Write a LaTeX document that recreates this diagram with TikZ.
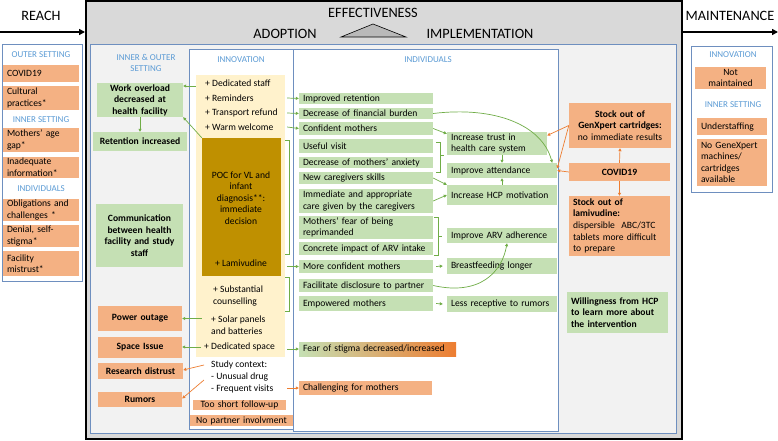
\documentclass[tikz,border=0pt]{standalone}
\usepackage{fontspec}
\setmainfont{Carlito}
\usetikzlibrary{arrows.meta,calc}
\definecolor{orng}{HTML}{F4B183}
\definecolor{grn}{HTML}{C5E0B4}
\definecolor{yelw}{HTML}{FFF2CC}
\definecolor{goldc}{HTML}{BF9000}
\definecolor{hblue}{HTML}{5B9BD5}
\definecolor{bdrc}{HTML}{6E8FBF}
\definecolor{garr}{HTML}{70AD47}
\definecolor{oarr}{HTML}{ED7D31}
\definecolor{grayA}{HTML}{D9D9D9}
\definecolor{grayB}{HTML}{F2F2F2}
\hyphenpenalty=10000
\exhyphenpenalty=10000
\newcommand\mybox[7]{%
  \pgfmathsetmacro\bxw{#5-#3}\pgfmathsetmacro\bxh{#6-#4}\pgfmathsetmacro\bxt{#5-#3-8}%
  \node[#2, minimum width=\bxw pt, minimum height=\bxh pt, text width=\bxt pt] (#1) at ({(#3+#5)/2},{(#4+#6)/2}) {#7};}
\begin{document}
\begin{tikzpicture}[x=1pt,y=-1pt,
  every node/.style={font=\fontsize{9.6}{11.6}\selectfont, inner sep=0pt},
  ob/.style={fill=orng, inner xsep=4pt, inner ysep=0pt, align=left},
  gb/.style={fill=grn, inner xsep=4pt, inner ysep=0pt, align=left},
  ctr/.style={align=center},
  bld/.style={font=\fontsize{9.6}{11.6}\selectfont\bfseries},
  hdr/.style={font=\fontsize{9}{11.5}\selectfont, text=hblue, align=center},
  ttl/.style={font=\fontsize{14.3}{16}\selectfont},
  itm/.style={anchor=west, align=left},
  garrow/.style={draw=garr, line width=0.7pt, -{Triangle[length=3pt,width=3pt]}},
  oarrow/.style={draw=oarr, line width=0.7pt, -{Triangle[length=3pt,width=3pt]}},
  gline/.style={draw=garr, line width=0.5pt},
  bigarrow/.style={line width=1.6pt, -{Triangle[length=6pt,width=6pt]}},
  frame/.style={draw=bdrc, line width=0.8pt}]
\useasboundingbox (0,0) rectangle (778,441);
\fill[white] (0,0) rectangle (778,441);
% frames
\draw[line width=2pt, fill=grayA] (86,1) rectangle (682,439);
\draw[frame, fill=grayB] (90,44) rectangle (676,433);
\draw[frame, fill=white] (189,49) rectangle (293,429);
\draw[frame, fill=white] (293,49) rectangle (558,431);
\draw[frame, fill=white] (2,44) rectangle (82,281);
\draw[frame, fill=white] (691,46) rectangle (772,192);
% titles
\node[ttl] (reach) at (41,16) {REACH};
\node[ttl] (eff) at (373,13) {EFFECTIVENESS};
\node[ttl] (adop) at (285,34) {ADOPTION};
\node[ttl] (impl) at (480,34) {IMPLEMENTATION};
\node[ttl] (maint) at (730,16) {MAINTENANCE};
\draw[fill=gray!55, line width=0.6pt] (341,37) -- (373,24) -- (406,37) -- cycle;
\coordinate (reachA) at (0,32);
\coordinate (reachB) at (85,32);
\coordinate (maintA) at (682,32);
\coordinate (maintB) at (778,32);
\draw[bigarrow] (reachA) -- (reachB);
\draw[bigarrow] (maintA) -- (maintB);
% REACH column
\node[hdr] (hOut) at (41,55) {OUTER SETTING};
\mybox{r1}{ob}{3}{65}{79}{82}{COVID19}
\mybox{r2}{ob}{3}{86}{79}{110}{Cultural\\practices*}
\node[hdr] (hIn) at (41,120) {INNER SETTING};
\mybox{r3}{ob}{3}{128}{79}{152}{Mothers’ age\\gap*}
\mybox{r4}{ob}{3}{157}{79}{178}{Inadequate\\information*}
\node[hdr] (hIndL) at (41,189) {INDIVIDUALS};
\mybox{r5}{ob}{3}{199}{79}{221}{Obligations and\\challenges *}
\mybox{r6}{ob}{3}{225}{79}{247}{Denial, self-\\stigma*}
\mybox{r7}{ob}{3}{251}{79}{276}{Facility\\mistrust*}
% inner & outer setting column
\node[hdr] (hIO) at (146,63) {INNER \& OUTER\\SETTING};
\mybox{work}{gb,bld,ctr}{97}{83}{183}{117}{Work overload\\decreased at\\health facility}
\mybox{ret}{gb,bld,ctr}{93}{132}{187}{151}{Retention increased}
\mybox{comm}{gb,bld,ctr}{96}{204}{183}{267}{Communication\\between health\\facility and study\\staff}
\mybox{power}{ob,bld,ctr}{98}{306}{182}{331}{Power outage}
\mybox{space}{ob,bld,ctr}{98}{337}{182}{358}{Space Issue}
\mybox{resd}{ob,bld,ctr}{98}{363}{183}{379}{Research distrust}
\mybox{rum}{ob,bld,ctr}{98}{392}{182}{407}{Rumors}
% innovation column
\node[hdr] (hInno) at (241,60) {INNOVATION};
\mybox{yel}{fill=yelw}{196}{75}{285}{357}{}
\node[itm] (dstaff) at (205,83) {+ Dedicated staff};
\node[itm] (remind) at (205,98) {+ Reminders};
\node[itm] (transp) at (205,113) {+ Transport refund};
\node[itm] (warm) at (205,127) {+ Warm welcome};
\mybox{gold}{fill=goldc}{202}{138}{281}{276}{}
\node[ctr] (poc) at (241,198) {POC for VL and\\infant\\diagnosis**:\\immediate\\decision};
\node (lam) at (241,263) {+ Lamivudine};
\node[itm] (couns) at (213,296) {+ Substantial\\counselling};
\node[itm] (solar) at (211,325) {+ Solar panels\\and batteries};
\node[itm] (dspace) at (204,347) {+ Dedicated space};
\node[itm] (study) at (211,377) {Study context:\\- Unusual drug\\- Frequent visits};
\mybox{short}{ob,ctr}{193}{400}{286}{410}{Too short follow-up}
\mybox{nopart}{ob,ctr}{190}{415}{293}{426}{No partner involvment}
% individuals column
\node[hdr] (hInd) at (428,60) {INDIVIDUALS};
\mybox{impret}{gb}{299}{93}{433}{104}{Improved retention}
\mybox{finb}{gb}{299}{108}{433}{119}{Decrease of financial burden}
\mybox{conf}{gb}{299}{122}{433}{135}{Confident mothers}
\mybox{useful}{gb}{299}{139}{433}{153}{Useful visit}
\mybox{anx}{gb}{299}{157}{433}{168}{Decrease of mothers’ anxiety}
\mybox{skills}{gb}{299}{172}{433}{184}{New caregivers skills}
\mybox{immed}{gb}{299}{189}{433}{213}{Immediate and appropriate\\care given by the caregivers}
\mybox{fear}{gb}{299}{216}{433}{239}{Mothers’ fear of being\\reprimanded}
\mybox{concr}{gb}{299}{242}{433}{255}{Concrete impact of ARV intake}
\mybox{moreconf}{gb}{299}{260}{433}{273}{More confident mothers}
\mybox{discl}{gb}{299}{279}{433}{292}{Facilitate disclosure to partner}
\mybox{empow}{gb}{299}{296}{433}{311}{Empowered mothers}
\mybox{stigma}{gb,left color=grn,middle color=grn,right color=oarr}{299}{342}{456}{356}{Fear of stigma decreased/increased}
\mybox{chall}{ob}{299}{381}{432}{395}{Challenging for mothers}
\mybox{trust}{gb}{447}{132}{547}{155}{Increase trust in\\health care system}
\mybox{attend}{gb}{447}{163}{557}{178}{Improve attendance}
\mybox{hcp}{gb}{447}{185}{557}{205}{Increase HCP motivation}
\mybox{arv}{gb}{447}{228}{557}{243}{Improve ARV adherence}
\mybox{breast}{gb}{447}{258}{557}{274}{Breastfeeding longer}
\mybox{lessr}{gb}{447}{296}{557}{312}{Less receptive to rumors}
% right column
\mybox{genx}{ob,ctr}{569}{103}{671}{148}{\textbf{Stock out of}\\\textbf{GenXpert cartridges:}\\no immediate results}
\mybox{covid}{ob,bld,ctr}{569}{163}{670}{181}{COVID19}
\mybox{lamst}{ob}{569}{196}{670}{256}{\textbf{Stock out of}\\\textbf{lamivudine:}\\dispersible\ \ ABC/3TC\\tablets more difficult\\to prepare}
\mybox{will}{gb,bld}{567}{292}{668}{333}{Willingness from HCP\\to learn more about\\the intervention}
% maintenance
\node[hdr] (hMI) at (733,55) {INNOVATION};
\mybox{notm}{ob,ctr}{695}{67}{766}{89}{Not\\maintained}
\node[hdr] (hMS) at (733,105) {INNER SETTING};
\mybox{under}{ob}{697}{118}{767}{135}{Understaffing}
\mybox{nogx}{ob}{697}{139}{767}{186}{No GeneXpert\\machines/\\cartridges\\available}
% brackets
\draw[gline] (285,140) -- (289,140) -- (289,254) -- (285,254);
\draw[gline] (285,277) -- (289,277) -- (289,311) -- (285,311);
\draw[gline] (436,142) -- (440,142) -- (440,172) -- (436,172);
\draw[gline] (440,155) -- (444,155);
\draw[gline] (434,217) -- (438,217) -- (438,255) -- (434,255);
\draw[gline] (438,236) -- (442,236);
% arrows innovation -> left
\draw[garrow] ($(yel.west |- dstaff)+(0,3)$) -- ($(work.east |- dstaff)+(0,3)$);
\draw[garrow] (gold.north west) -- (work.south east);
\draw[garrow] (work.south) -- (ret.north);
\draw[garrow] ($(yel.west |- power.east)+(6,0)$) -- (power.east);
\draw[garrow] ([xshift=-3pt]dspace.west) -- (space.east |- dspace.west);
\coordinate (st1) at (204,365);
\coordinate (st2) at (204,380);
\draw[oarrow] (st1) -- ($(resd.east)+(0,-1)$);
\draw[oarrow] (st2) -- ($(rum.east)+(0,-1)$);
% arrows innovation -> individuals
\draw[garrow] ([xshift=2pt]yel.east |- remind) -- (impret.west);
\draw[garrow] ([xshift=2pt]yel.east |- transp) -- (finb.west);
\draw[garrow] ([xshift=2pt]yel.east |- warm) -- (conf.west);
\draw[garrow] ([xshift=6pt]gold.east |- moreconf) -- (moreconf.west);
\draw[garrow] ([xshift=2pt]yel.east |- stigma) -- (stigma.west);
\draw[oarrow] ([xshift=2pt]yel.east |- chall) -- (chall.west);
% arrows individuals -> outcomes
\draw[garrow] (finb.east) .. controls (495,106) and (542,125) .. ($(attend.north east)+(-5,0)$);
\draw[garrow] (conf.east) -- ($(trust.north west)+(0,2)$);
\draw[garrow] (skills.east) -- (hcp.north west);
\draw[garrow] (immed.east) -- (hcp.west);
\draw[garrow] ($(trust.south)+(5,0)$) -- ($(attend.north -| trust.south)+(5,0)$);
\draw[garrow] ($(hcp.north -| trust.south)+(5,0)$) -- ($(attend.south -| trust.south)+(5,0)$);
\draw[garrow] ([xshift=3pt]moreconf.east) -- ([xshift=-4pt]breast.west);
\draw[garrow] ([xshift=3pt]empow.east) -- ([xshift=-4pt]lessr.west);
\draw[garrow] (discl.east) .. controls (480,296) and (502,272) .. ($(arv.south)+(5,0)$);
% orange arrows right column
\draw[oarrow] (genx.west) -- ($(trust.east)+(0,-8)$);
\draw[oarrow] (genx.west) -- ($(attend.east)+(0,-2)$);
\draw[oarrow] (covid.west) -- (attend.east);
\draw[oarrow] (covid.north) -- (genx.south);
\draw[oarrow] (covid.south) -- (lamst.north);
\end{tikzpicture}
\end{document}
